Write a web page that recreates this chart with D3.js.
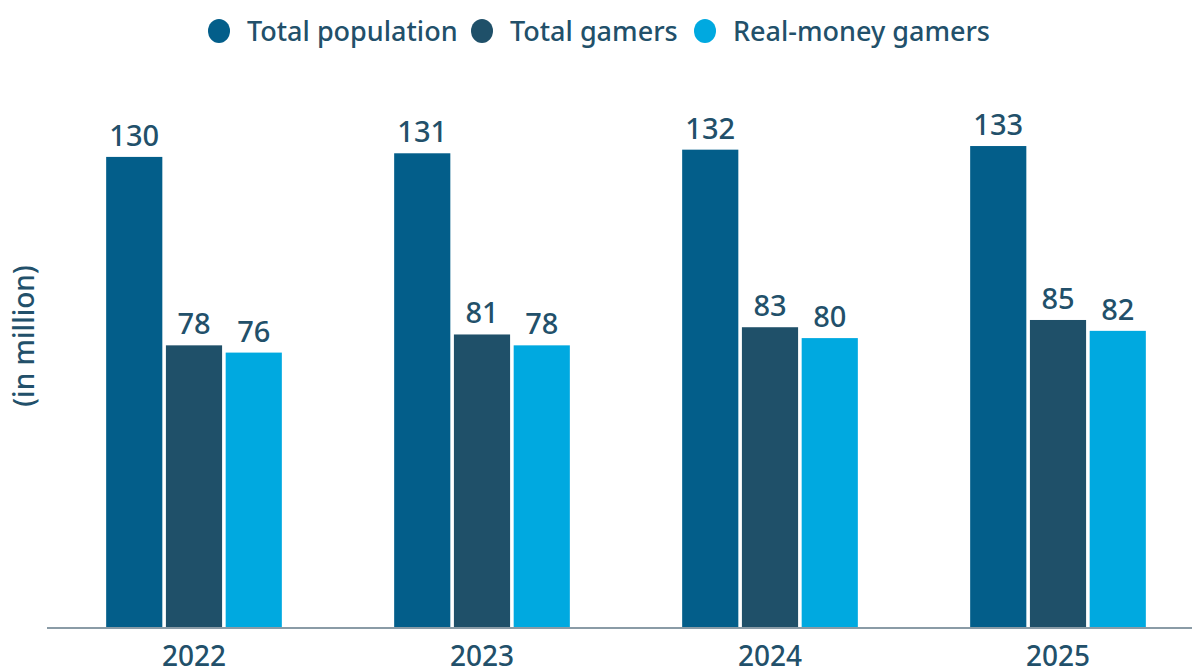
<!DOCTYPE html>
<meta charset="utf-8">
<style>
body { margin: 0; background: #fff; }
text { font-family: "Noto Sans", sans-serif; fill: #22506a; }
</style>
<body>
<script src="https://d3js.org/d3.v7.min.js"></script>
<script>

var years = ["2022", "2023", "2024", "2025"];
var seriesNames = ["Total population", "Total gamers", "Real-money gamers"];
var totalPopulation = [130, 131, 132, 133];
var totalGamers = [78, 81, 83, 85];
var realMoneyGamers = [76, 78, 80, 82];

var colors = ["#035e8a", "#1f5069", "#00a9e0"];

var w = 1192, h = 670;
var baseline = 628;

var svg = d3.select("body").append("svg")
    .attr("width", w)
    .attr("height", h);

var seriesValues = [totalPopulation, totalGamers, realMoneyGamers];
var rows = years.map(function(y, i) {
    return { year: y, values: seriesValues.map(function(s, k) { return { k: k, v: s[i] }; }) };
});

// scales
var x0 = d3.scaleBand()
    .domain(years)
    .range([50, 1202])
    .paddingInner(0.39)
    .paddingOuter(0.195);

var x1 = d3.scaleBand()
    .domain([0, 1, 2])
    .range([0, x0.bandwidth()])
    .paddingInner(0.06);

var y = d3.scaleLinear()
    .domain([0, 173.3])
    .range([baseline, 0]);

// bars
var g = svg.selectAll(".grp")
    .data(rows)
    .enter().append("g")
    .attr("class", "grp")
    .attr("transform", function(d) { return "translate(" + x0(d.year) + ",0)"; });

g.selectAll("rect")
    .data(function(d) { return d.values; })
    .enter().append("rect")
    .attr("x", function(d) { return x1(d.k); })
    .attr("y", function(d) { return y(d.v); })
    .attr("width", x1.bandwidth())
    .attr("height", function(d) { return baseline - y(d.v); })
    .attr("fill", function(d) { return colors[d.k]; });

g.selectAll(".val")
    .data(function(d) { return d.values; })
    .enter().append("text")
    .attr("class", "val")
    .attr("x", function(d) { return x1(d.k) + x1.bandwidth() / 2; })
    .attr("y", function(d) { return y(d.v) - 11; })
    .attr("text-anchor", "middle")
    .style("font-size", "29px")
    .style("font-weight", 500)
    .text(function(d) { return d.v; });

// x axis
var xAxis = svg.append("g")
    .attr("transform", "translate(0," + baseline + ")")
    .call(d3.axisBottom(x0).tickSize(0).tickPadding(18));
xAxis.select(".domain").remove();
xAxis.append("line")
    .attr("x1", 47).attr("x2", w)
    .attr("stroke", "#8a9ba6").attr("stroke-width", 2);
xAxis.selectAll(".tick text")
    .style("font-family", "'Noto Sans', sans-serif")
    .style("font-size", "28px")
    .style("font-weight", 500)
    .attr("fill", "#22506a");

// y label
svg.append("text")
    .attr("transform", "translate(34,336) rotate(-90)")
    .attr("text-anchor", "middle")
    .style("font-size", "28px")
    .style("font-weight", 500)
    .text("(in million)");

// legend
var legendX = [219, 482, 705];
var legend = svg.selectAll(".leg")
    .data(seriesNames)
    .enter().append("g")
    .attr("class", "leg")
    .attr("transform", function(d, i) { return "translate(" + legendX[i] + ",31)"; });
legend.append("ellipse")
    .attr("rx", 11).attr("ry", 12)
    .attr("fill", function(d, i) { return colors[i]; });
legend.append("text")
    .attr("x", 28)
    .attr("y", 10)
    .style("font-size", "27px")
    .style("font-weight", 500)
    .text(function(d) { return d; });

</script>
</body>
